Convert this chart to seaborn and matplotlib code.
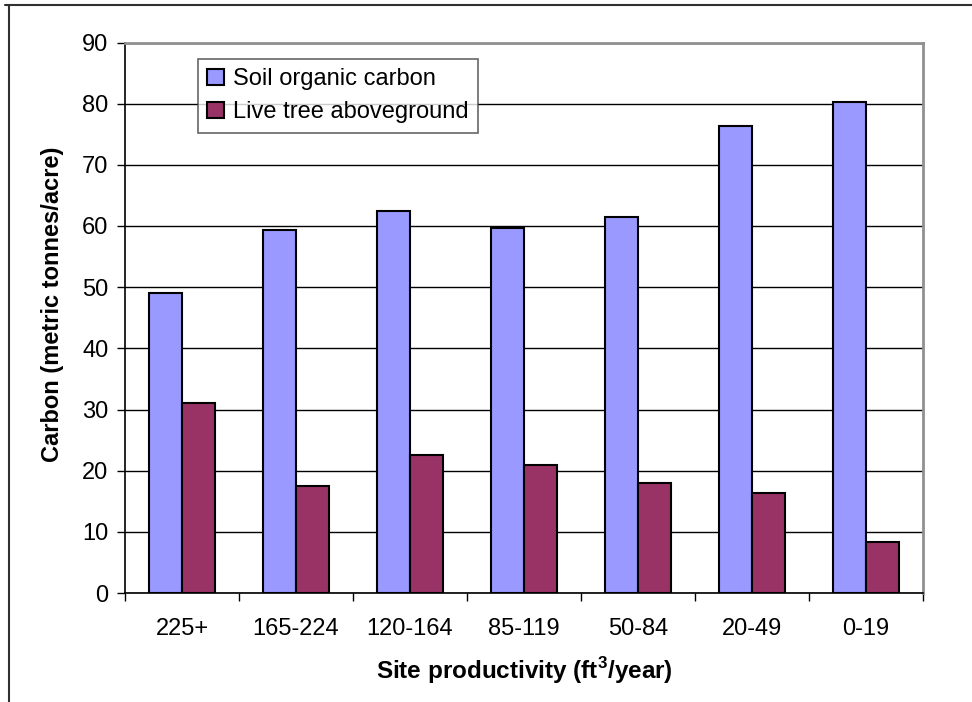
import matplotlib
matplotlib.use("Agg")
import matplotlib.pyplot as plt
from matplotlib.lines import Line2D
import seaborn as sns
import pandas as pd
import numpy as np

categories = ["225+", "165-224", "120-164", "85-119", "50-84", "20-49", "0-19"]
soil_organic_carbon = [49.1, 59.3, 62.4, 59.6, 61.5, 76.4, 80.3]
live_tree_aboveground = [31.1, 17.5, 22.6, 20.9, 18.0, 16.3, 8.3]
series_names = ["Soil organic carbon", "Live tree aboveground"]
y_ticks = [0, 10, 20, 30, 40, 50, 60, 70, 80, 90]

df = pd.DataFrame({
    "Site": categories * 2,
    "Carbon": soil_organic_carbon + live_tree_aboveground,
    "Series": [series_names[0]] * len(categories) + [series_names[1]] * len(categories),
})

sns.set_style("white")
plt.rcParams["font.family"] = ["Liberation Sans", "DejaVu Sans"]
plt.rcParams["mathtext.fontset"] = "custom"
plt.rcParams["mathtext.rm"] = "Liberation Sans"
plt.rcParams["mathtext.bf"] = "Liberation Sans:bold"
plt.rcParams["text.color"] = "black"
plt.rcParams["axes.labelcolor"] = "black"
plt.rcParams["xtick.color"] = "black"
plt.rcParams["ytick.color"] = "black"

fig = plt.figure(figsize=(9.72, 7.02), dpi=100)
ax = fig.add_axes([125 / 972, 1 - 593 / 702, (923 - 125) / 972, (593 - 42.5) / 702])

sns.barplot(data=df, x="Site", y="Carbon", hue="Series", order=categories,
            hue_order=series_names, palette=["#9999FF", "#993366"], saturation=1,
            width=0.58, edgecolor="black", linewidth=1.5, ax=ax, zorder=3)

ax.set_xlim(-0.5, len(categories) - 0.5)
ax.set_ylim(0, 90)
ax.set_yticks(y_ticks)
ax.yaxis.grid(True, color="black", linewidth=1.0, zorder=0)
ax.set_axisbelow(True)
ax.tick_params(axis="y", direction="out", length=6, width=1, color="black",
               labelsize=17, pad=6, left=True, labelcolor="black")
ax.set_xticks(np.arange(len(categories)))
ax.set_xticklabels(categories)
ax.tick_params(axis="x", which="major", length=0, labelsize=17, pad=18,
               labelcolor="black")
ax.set_xticks(np.arange(-0.5, len(categories)), minor=True)
ax.tick_params(axis="x", which="minor", direction="out", length=6, width=1,
               color="black", bottom=True)

for s in ["left", "bottom"]:
    ax.spines[s].set_color("black")
    ax.spines[s].set_linewidth(1.2)
for s in ["top", "right"]:
    ax.spines[s].set_visible(True)
    ax.spines[s].set_color("#909090")
    ax.spines[s].set_linewidth(2)

ax.set_xlabel(r"Site productivity (ft$^{\mathbf{3}}$/year)", fontsize=17.5,
              fontweight="bold", color="black", va="center")
ax.xaxis.set_label_coords(0.5, (593 - 671) / 550.5)
ax.set_ylabel("Carbon (metric tonnes/acre)", fontsize=17, fontweight="bold",
              color="black", va="center")
ax.yaxis.set_label_coords((52 - 125) / 798, (593 - 304) / 550.5)

handles, labels = ax.get_legend_handles_labels()
leg = ax.legend(handles, labels, loc="upper left",
                bbox_to_anchor=(198 / 972, 1 - 59 / 702),
                bbox_transform=fig.transFigure, borderaxespad=0,
                fancybox=False, frameon=True, edgecolor="#404040",
                fontsize=17, handlelength=0.7, handleheight=0.7,
                handletextpad=0.4, borderpad=0.4, labelspacing=0.45)
leg.get_frame().set_linewidth(1.2)
leg.set_zorder(5)
for t in leg.get_texts():
    t.set_color("black")

fig.add_artist(Line2D([5 / 972, 1], [1 - 5 / 702, 1 - 5 / 702],
                      transform=fig.transFigure, color="#303030", linewidth=1.5))
fig.add_artist(Line2D([9 / 972, 9 / 972], [0, 1 - 5 / 702],
                      transform=fig.transFigure, color="#303030", linewidth=1.5))

fig.savefig("out.png", dpi=100)
